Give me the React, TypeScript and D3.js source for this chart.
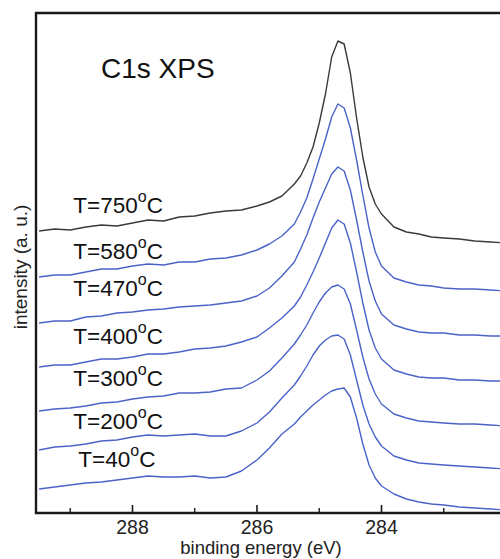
import React from "react";
import * as d3 from "d3";

// binding energy grid (eV)
const energy = [
  289.5, 289.25, 289.0, 288.75, 288.5, 288.25, 288.0, 287.75, 287.5, 287.25, 287.0,
  286.75, 286.5, 286.25, 286.0, 285.8, 285.6, 285.4, 285.3, 285.2, 285.1, 285.0,
  284.9, 284.8, 284.7, 284.6, 284.5, 284.4, 284.3, 284.2, 284.1, 284.0, 283.8,
  283.6, 283.4, 283.2, 283.0, 282.75, 282.5, 282.25, 282.0,
];

// intensities (a. u., already offset per temperature)
const t750 = [
  282, 284, 283, 286, 288, 287, 290, 293, 292, 296, 297, 300, 302, 303, 307, 311,
  317, 329, 337, 350, 366, 390, 419, 456, 472, 469, 440, 395, 356, 326, 309, 299,
  286, 281, 279, 276, 275, 274, 272, 271, 270,
];
const t580 = [
  236, 238, 238, 241, 244, 244, 247, 249, 248, 251, 251, 254, 255, 258, 263, 269,
  277, 289, 301, 315, 334, 354, 374, 396, 409, 405, 385, 353, 318, 285, 261, 247,
  235, 231, 228, 227, 225, 224, 224, 223, 222,
];
const t470 = [
  190, 192, 192, 196, 197, 200, 201, 203, 204, 206, 207, 208, 210, 212, 217, 225,
  237, 251, 264, 278, 295, 311, 325, 339, 346, 342, 323, 293, 261, 232, 212, 199,
  188, 184, 181, 180, 180, 178, 178, 177, 177,
];
const t400 = [
  146, 148, 148, 151, 154, 154, 156, 159, 159, 161, 164, 165, 167, 171, 176, 185,
  195, 207, 216, 228, 241, 255, 270, 285, 293, 289, 270, 241, 210, 183, 165, 154,
  143, 139, 136, 135, 135, 133, 133, 132, 132,
];
const t300 = [
  102, 104, 105, 107, 110, 111, 114, 116, 117, 120, 120, 121, 124, 125, 133, 142,
  155, 169, 178, 188, 200, 211, 220, 226, 228, 224, 209, 183, 156, 134, 119, 109,
  99, 95, 92, 91, 90, 89, 89, 88, 87,
];
const t200 = [
  63, 66, 67, 69, 72, 73, 76, 78, 77, 78, 79, 77, 77, 82, 90, 101, 115, 128, 137,
  147, 158, 167, 173, 177, 178, 174, 158, 133, 108, 89, 76, 67, 57, 53, 50, 49, 48,
  47, 46, 45, 44,
];
const t40 = [
  24, 26, 28, 30, 31, 33, 35, 37, 36, 36, 37, 35, 36, 42, 53, 65, 79, 89, 96, 102,
  108, 113, 118, 122, 124, 125, 116, 95, 69, 48, 35, 27, 19, 14, 11, 9, 8, 6, 5, 4, 3,
];

const seriesNames = ["T=750", "T=580", "T=470", "T=400", "T=300", "T=200", "T=40"];
const seriesValues = [t750, t580, t470, t400, t300, t200, t40];
const seriesColors = ["#3a3a3a", "#4a63c9", "#4a63c9", "#4a63c9", "#4a63c9", "#4a63c9", "#4a63c9"];
// label anchor: energy of left edge and intensity of baseline
const labelEnergy = [288.95, 288.95, 288.95, 288.95, 288.95, 288.95, 288.87];
const labelLevel = [300, 254, 217, 169, 127, 84, 46];

const majorTicks = [288, 286, 284];
const minorTicks = [289, 287, 285, 283];

const W = 500;
const H = 559;
const left = 36;
const top = 13;
const bottom = 513;
const right = 506;

const App = () => {
  const x = d3.scaleLinear().domain([289.55, 282.0]).range([left, right]);
  const y = d3.scaleLinear().domain([0, 500]).range([bottom, top]);

  const line = d3
    .line<number>()
    .x((_, i) => x(energy[i]))
    .y((d) => y(d));

  const font = "Arial, 'Liberation Sans', sans-serif";

  return (
    <svg
      width={W}
      height={H}
      style={{ position: "absolute", left: 0, top: 0, background: "#fff" }}
      fontFamily={font}
    >
      <defs>
        <clipPath id="plot">
          <rect x={left} y={top} width={right - left} height={bottom - top} />
        </clipPath>
      </defs>

      <g clipPath="url(#plot)">
        {seriesValues.map((vals, i) => (
          <path
            key={seriesNames[i]}
            d={line(vals) || ""}
            fill="none"
            stroke={seriesColors[i]}
            strokeWidth={1.4}
            strokeLinejoin="round"
          />
        ))}
      </g>

      {/* frame */}
      <path
        d={`M${right + 4},${top} H${left} V${bottom} H${right + 4}`}
        fill="none"
        stroke="#1a1a1a"
        strokeWidth={2.4}
      />

      {majorTicks.map((t) => (
        <g key={t}>
          <line x1={x(t)} x2={x(t)} y1={bottom} y2={bottom - 8} stroke="#1a1a1a" strokeWidth={1.6} />
          <text x={x(t)} y={534} textAnchor="middle" fontSize={19.5} fill="#222">
            {t}
          </text>
        </g>
      ))}
      {minorTicks.map((t) => (
        <line key={t} x1={x(t)} x2={x(t)} y1={bottom} y2={bottom - 5} stroke="#1a1a1a" strokeWidth={1.4} />
      ))}

      <text x={261} y={554} textAnchor="middle" fontSize={18.5} fill="#222">
        binding energy (eV)
      </text>
      <text
        transform={`translate(27,${267}) rotate(-90)`}
        textAnchor="middle"
        fontSize={19}
        fill="#222"
      >
        intensity (a. u.)
      </text>

      <text x={101} y={78} fontSize={28} fill="#111">
        C1s XPS
      </text>

      {seriesNames.map((n, i) => (
        <text key={n} x={x(labelEnergy[i])} y={y(labelLevel[i])} fontSize={22.5} fill="#111">
          {n}
          <tspan fontSize={16} dy={-11}>o</tspan>
          <tspan dy={11}>C</tspan>
        </text>
      ))}
    </svg>
  );
};

export default App;
